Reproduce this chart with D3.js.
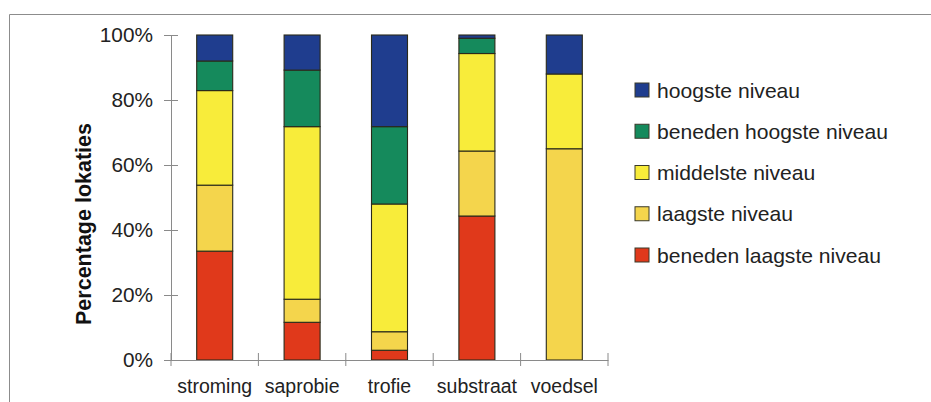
<!DOCTYPE html>
<html>
<head>
<meta charset="utf-8">
<script src="https://cdn.jsdelivr.net/npm/d3@7"></script>
<style>
  html, body { margin: 0; padding: 0; background: #ffffff; }
  svg { display: block; font-family: "Liberation Sans", Arial, sans-serif; }
</style>
</head>
<body>
<svg id="chart" width="931" height="402"></svg>
<script>
// ---- data ----
const categories = ["stroming", "saprobie", "trofie", "substraat", "voedsel"];
const seriesNames = ["beneden laagste niveau", "laagste niveau", "middelste niveau", "beneden hoogste niveau", "hoogste niveau"];
const benedenLaagste = [33.5, 11.6, 3.0, 44.3, 0];
const laagste        = [20.3, 7.1, 5.7, 20.0, 65.0];
const middelste      = [29.1, 53.1, 39.3, 30.0, 23.0];
const benedenHoogste = [9.1, 17.4, 23.8, 4.7, 0];
const hoogste        = [8.0, 10.8, 28.2, 1.0, 12.0];
const yTicks = [0, 20, 40, 60, 80, 100];
const legendOrder = ["hoogste niveau", "beneden hoogste niveau", "middelste niveau", "laagste niveau", "beneden laagste niveau"];

const colors = {
  "beneden laagste niveau": "#e0391b",
  "laagste niveau": "#f4d54c",
  "middelste niveau": "#f8ec3a",
  "beneden hoogste niveau": "#158a5c",
  "hoogste niveau": "#1f3d8e"
};

const seriesValues = [benedenLaagste, laagste, middelste, benedenHoogste, hoogste];
const table = categories.map((c, i) => {
  const row = { cat: c };
  seriesNames.forEach((s, j) => row[s] = seriesValues[j][i]);
  return row;
});

const svg = d3.select("#chart");
const axisColor = "#8a8a8a";

// frame
svg.append("path")
  .attr("d", "M9.5,402 V14.5 H931")
  .attr("fill", "none").attr("stroke", "#8c8c8c").attr("stroke-width", 1);

const x = d3.scaleBand().domain(categories).range([171, 608])
  .paddingInner(0.588).paddingOuter(0.294);
const y = d3.scaleLinear().domain([0, 100]).range([360, 35]);

const stack = d3.stack().keys(seriesNames);
const stacked = stack(table);

// bars
const g = svg.append("g");
g.selectAll("g.series").data(stacked).join("g")
  .attr("class", "series")
  .attr("fill", d => colors[d.key])
  .selectAll("rect").data(d => d.filter(p => p[1] - p[0] > 0)).join("rect")
  .attr("x", d => x(d.data.cat))
  .attr("width", x.bandwidth())
  .attr("y", d => y(d[1]))
  .attr("height", d => y(d[0]) - y(d[1]))
  .attr("stroke", "#2a2a1a")
  .attr("stroke-width", 1.1);

// y axis
const yAxis = svg.append("g").attr("transform", "translate(171,0)")
  .call(d3.axisLeft(y).tickValues(yTicks).tickFormat(d => d + "%").tickSize(7).tickPadding(11));
yAxis.select(".domain").attr("stroke", axisColor);
yAxis.selectAll(".tick line").attr("stroke", axisColor);
yAxis.selectAll(".tick").append("line").attr("x1", 0).attr("x2", 7).attr("stroke", axisColor);
yAxis.selectAll(".tick text").attr("font-size", 20.8).attr("fill", "#222");
yAxis.attr("font-family", null);

// x axis
const xAxis = svg.append("g").attr("transform", "translate(0,360)")
  .call(d3.axisBottom(x).tickSize(0).tickPadding(19));
xAxis.select(".domain").attr("stroke", axisColor);
xAxis.selectAll(".tick text").attr("font-size", 19.5).attr("fill", "#222");
xAxis.attr("font-family", null);
// category boundary ticks
const step = x.step();
const bounds = d3.range(categories.length + 1).map(i => x.range()[0] + i * step);
xAxis.selectAll("line.bound").data(bounds).join("line")
  .attr("class", "bound")
  .attr("x1", d => d).attr("x2", d => d)
  .attr("y1", -7).attr("y2", 6)
  .attr("stroke", axisColor);

// y title
svg.append("text")
  .attr("transform", "translate(91,224) rotate(-90)")
  .attr("text-anchor", "middle")
  .attr("font-size", 21.5).attr("font-weight", "bold").attr("fill", "#111")
  .text("Percentage lokaties");

// legend
const legend = svg.append("g");
const ly = d3.scalePoint().domain(legendOrder).range([90, 255]);
const items = legend.selectAll("g").data(legendOrder).join("g")
  .attr("transform", d => `translate(635,${ly(d)})`);
items.append("rect").attr("x", 0).attr("y", -7).attr("width", 14).attr("height", 14)
  .attr("fill", d => colors[d]).attr("stroke", "#3a3a2a").attr("stroke-width", 1);
items.append("text").attr("x", 22).attr("y", 0).attr("dy", "0.36em")
  .attr("font-size", 21.1).attr("fill", "#222")
  .text(d => d);
</script>
</body>
</html>
